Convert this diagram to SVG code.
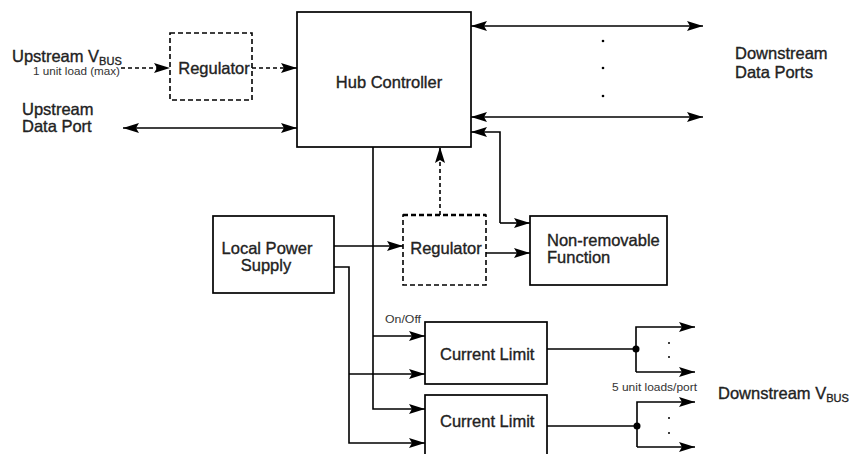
<svg xmlns="http://www.w3.org/2000/svg" width="850" height="454" viewBox="0 0 850 454">
<defs>
<marker id="ah" viewBox="0 0 16 10" markerWidth="16" markerHeight="10" refX="16" refY="5" markerUnits="userSpaceOnUse" orient="auto-start-reverse"><path d="M0,0 L16,5 L0,10 L3,5 z" fill="#000"/></marker>
</defs>
<style>
.box{fill:#fff;stroke:#000;stroke-width:1.7}
.dbox{fill:#fff;stroke:#000;stroke-width:1.6;stroke-dasharray:5 3}
.ln{fill:none;stroke:#000;stroke-width:1.6}
.dl{fill:none;stroke:#000;stroke-width:1.6;stroke-dasharray:4 3}
.t{font-family:"Liberation Sans",Arial,sans-serif;font-size:16.5px;fill:#222;stroke:#222;stroke-width:0.35}
.s{font-family:"Liberation Sans",Arial,sans-serif;font-size:10px;fill:#333}
</style>
<g id="connectors">
<path class="dl" d="M121,68 H170" marker-end="url(#ah)"/>
<path class="dl" d="M252,68 H297" marker-end="url(#ah)"/>
<path class="ln" d="M123,128 H297" marker-start="url(#ah)" marker-end="url(#ah)"/>
<path class="ln" d="M471,26 H703" marker-start="url(#ah)" marker-end="url(#ah)"/>
<path class="ln" d="M471,117 H703" marker-start="url(#ah)" marker-end="url(#ah)"/>
<path class="ln" d="M500,223 V132 H471" marker-end="url(#ah)"/>
<path class="ln" d="M500,223 H530" marker-end="url(#ah)"/>
<path class="dl" d="M440,215 V147" marker-end="url(#ah)"/>
<path class="ln" d="M486,253 H530" marker-end="url(#ah)"/>
<path class="ln" d="M334,246 H403" marker-end="url(#ah)"/>
<path class="ln" d="M334,267 H349 V443 H425" marker-end="url(#ah)"/>
<path class="ln" d="M349,374 H425" marker-end="url(#ah)"/>
<path class="ln" d="M373,147 V409 H425" marker-end="url(#ah)"/>
<path class="ln" d="M373,336 H425" marker-end="url(#ah)"/>
<path class="ln" d="M547,349 H636"/>
<path class="ln" d="M636,372 V327 H695" marker-end="url(#ah)"/>
<path class="ln" d="M636,372 H695" marker-end="url(#ah)"/>
<circle cx="636" cy="349" r="3.5" fill="#000"/>
<path class="ln" d="M547,426 H637"/>
<path class="ln" d="M637,447 V402 H695" marker-end="url(#ah)"/>
<path class="ln" d="M637,447 H695" marker-end="url(#ah)"/>
<circle cx="637" cy="426" r="3.5" fill="#000"/>
<g fill="#000">
<circle cx="603" cy="41" r="1.3"/><circle cx="603" cy="68" r="1.3"/><circle cx="603" cy="96" r="1.3"/>
<circle cx="669" cy="343" r="1"/><circle cx="669" cy="357" r="1"/>
<circle cx="669" cy="418" r="1"/><circle cx="669" cy="433" r="1"/>
</g>
</g>
<g id="hub">
<rect class="box" x="297" y="12" width="174" height="135"/>
<text class="t" x="389" y="88" text-anchor="middle">Hub Controller</text>
</g>
<g id="reg-up">
<rect class="dbox" x="170" y="33" width="82" height="67"/>
<text class="t" x="214" y="74" text-anchor="middle">Regulator</text>
</g>
<g id="reg-local">
<rect class="dbox" x="403" y="215" width="83" height="70"/>
<path d="M403,215 H486" stroke="#000" stroke-width="2.6" stroke-dasharray="5 3" fill="none"/>
<text class="t" x="446" y="254" text-anchor="middle">Regulator</text>
</g>
<g id="lps">
<rect class="box" x="213" y="216" width="121" height="77"/>
<text class="t" x="267" y="254" text-anchor="middle">Local Power</text>
<text class="t" x="266" y="271" text-anchor="middle">Supply</text>
</g>
<g id="nonremovable">
<rect class="box" x="530" y="216" width="137" height="69"/>
<text class="t" x="547" y="246">Non-removable</text>
<text class="t" x="547" y="263">Function</text>
</g>
<g id="cl1">
<rect class="box" x="425" y="322" width="122" height="62"/>
<text class="t" x="440" y="360">Current Limit</text>
</g>
<g id="cl2">
<rect class="box" x="425" y="395" width="122" height="70"/>
<text class="t" x="440" y="427">Current Limit</text>
</g>
<g id="labels">
<text class="t" x="12" y="62">Upstream V<tspan font-size="11px" dy="3">BUS</tspan></text>
<text class="s" x="33" y="75" textLength="87" lengthAdjust="spacingAndGlyphs">1 unit load (max)</text>
<text class="t" x="22" y="115">Upstream</text>
<text class="t" x="22" y="132">Data Port</text>
<text class="t" x="735" y="59">Downstream</text>
<text class="t" x="735" y="78">Data Ports</text>
<text class="s" x="385" y="323" textLength="36" lengthAdjust="spacingAndGlyphs">On/Off</text>
<text class="s" x="612" y="391" textLength="85" lengthAdjust="spacingAndGlyphs">5 unit loads/port</text>
<text class="t" x="718" y="399">Downstream V<tspan font-size="11px" dy="3">BUS</tspan></text>
</g>
</svg>
